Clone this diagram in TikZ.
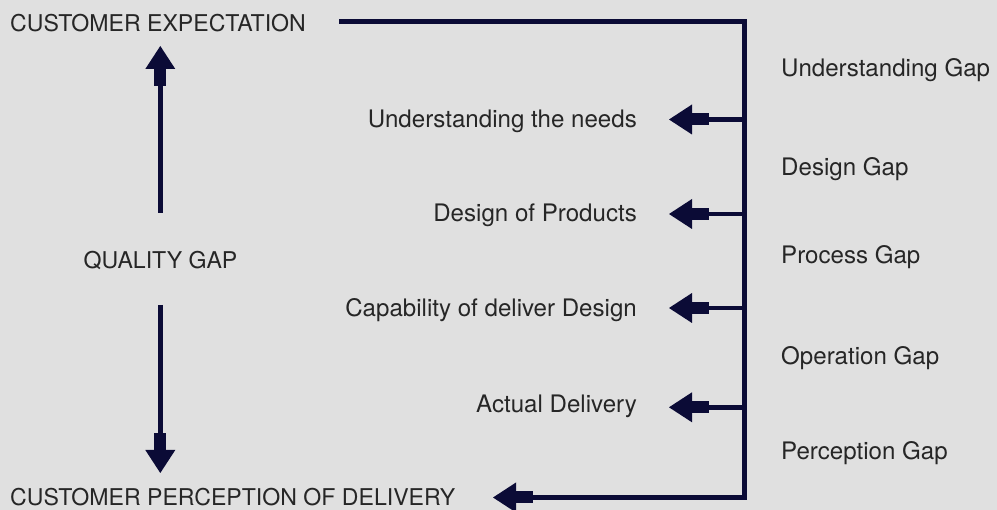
\documentclass[tikz,border=0pt]{standalone}
\usepackage{fontspec}
\setmainfont{TeX Gyre Heros}
\usepackage{xcolor}
\usetikzlibrary{arrows.meta}
\definecolor{navy}{HTML}{0B0B36}
\definecolor{ink}{HTML}{262626}
\definecolor{paper}{HTML}{E0E0E0}
\tikzset{gaparrow/.style={draw=navy, line width=4.6pt,
  -{Rectangle[length=17pt,width=12pt,sep=0pt,line width=0pt]Triangle[length=23pt,width=30pt,sep=0pt,line width=0pt]}},
  capslabel/.style={font=\fontsize{23.1}{28}\selectfont},
  gaplabel/.style={font=\fontsize{24.1}{28}\selectfont}}

\begin{document}
\begin{tikzpicture}[x=1pt,y=-1pt]
\tikzstyle{every node}+=[inner sep=0pt, text=ink]
\fill [paper] (0,0) rectangle (997,510);
\useasboundingbox (0,0) rectangle (997,510);
% left column
\node (expect) [capslabel, anchor=base west] at (10,31.7) {CUSTOMER EXPECTATION};
\node (quality) [capslabel, anchor=base] at (160.5,269) {QUALITY GAP};
\node (percept) [capslabel, anchor=base west] at (10,506) {CUSTOMER PERCEPTION OF DELIVERY};
% middle column
\node (need) [gaplabel, anchor=base east] at (637,127.5) {Understanding the needs};
\node (design) [gaplabel, anchor=base east] at (637,221.5) {Design of Products};
\node (capab) [gaplabel, anchor=base east] at (637,316.7) {Capability of deliver Design};
\node (deliv) [gaplabel, anchor=base east] at (637,413) {Actual Delivery};
% right column
\node (ugap) [gaplabel, anchor=base west] at (781,76.7) {Understanding Gap};
\node (dgap) [gaplabel, anchor=base west] at (781,176) {Design Gap};
\node (pgap) [gaplabel, anchor=base west] at (781,263.3) {Process Gap};
\node (ogap) [gaplabel, anchor=base west] at (781,364.3) {Operation Gap};
\node (pcgap) [gaplabel, anchor=base west] at (781,460) {Perception Gap};
% main loop
\coordinate (s0) at (339,21.5);
\coordinate (tr) at (744.3,21.5);
\coordinate (br) at (744.3,497.5);
\coordinate (s5) at (493,497.5);
\draw [gaparrow, line join=miter] (s0) -- (tr) -- (br) -- (s5);
% branches
\coordinate (b1) at (744.3,119.5);
\coordinate (t1) at (669,119.5);
\coordinate (b2) at (744.3,214);
\coordinate (t2) at (669,214);
\coordinate (b3) at (744.3,308);
\coordinate (t3) at (669,308);
\coordinate (b4) at (744.3,407.3);
\coordinate (t4) at (669,407.3);
\draw [gaparrow] (b1) -- (t1);
\draw [gaparrow] (b2) -- (t2);
\draw [gaparrow] (b3) -- (t3);
\draw [gaparrow] (b4) -- (t4);
% quality gap arrows
\coordinate (q1) at (160.3,213);
\coordinate (q2) at (160.3,46);
\coordinate (q3) at (160.3,305);
\coordinate (q4) at (160.3,473);
\draw [gaparrow] (q1) -- (q2);
\draw [gaparrow] (q3) -- (q4);
\end{tikzpicture}
\end{document}
